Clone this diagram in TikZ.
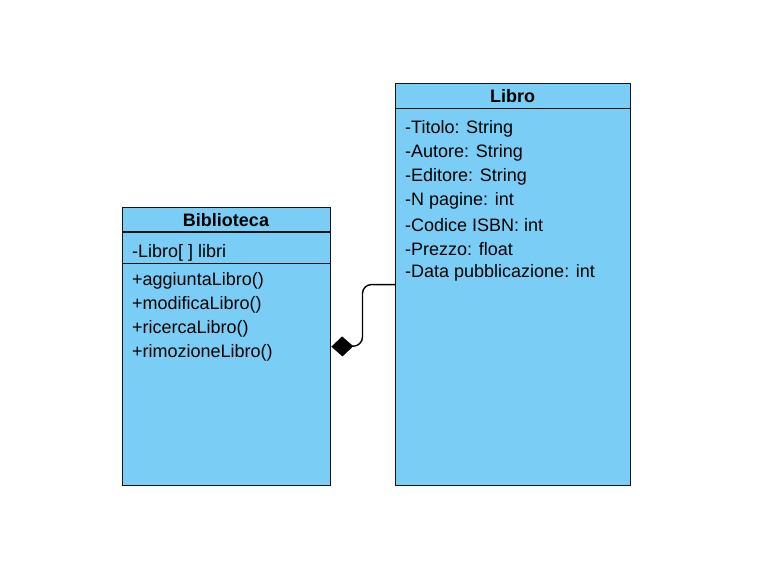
\documentclass[tikz,border=0pt]{standalone}
\usepackage{fontspec}
\setmainfont{Liberation Sans}
\usetikzlibrary{arrows.meta}
\definecolor{umlfill}{RGB}{122,206,245}
\definecolor{umlline}{RGB}{20,20,20}
\tikzset{
  classbox/.style={draw=umlline, fill=umlfill, line width=1.3pt, minimum width=#1, inner sep=0pt, anchor=north west},
  member/.style={anchor=west, inner sep=0pt, font=\fontsize{18}{20}\selectfont, text=black},
  title/.style={anchor=center, inner sep=0pt, font=\fontsize{18}{20}\selectfont\bfseries, text=black},
  sep/.style={draw=umlline, line width=1.3pt},
  assoc/.style={draw=black, line width=1.4pt, rounded corners=9pt}
}
\begin{document}
\begin{tikzpicture}[x=1pt,y=-1pt]
\useasboundingbox (0,0) rectangle (762,561);
% Biblioteca
\node[classbox=208pt, minimum height=278pt] (bib) at (122,207) {};
\draw[sep] (122,232) -- (330,232);
\draw[sep] (122,263.5) -- (330,263.5);
\node[title] (bibt) at (226,220) {Biblioteca};
\node[member] (b1) at (132,253) {-Libro[ ] libri};
\node[member] (b2) at (132,281) {+aggiuntaLibro()};
\node[member] (b3) at (132,305) {+modificaLibro()};
\node[member] (b4) at (132,329) {+ricercaLibro()};
\node[member] (b5) at (132,353) {+rimozioneLibro()};
% Libro
\node[classbox=235pt, minimum height=402pt] (libro) at (395,83) {};
\draw[sep] (395,108.5) -- (630,108.5);
\node[title] (librot) at (512.5,96) {Libro};
\node[member] (l1) at (405,129) {-Titolo: String};
\node[member] (l2) at (405,153) {-Autore: String};
\node[member] (l3) at (405,177) {-Editore: String};
\node[member] (l4) at (405,201) {-N pagine: int};
\node[member] (l5) at (405,225) {-Codice ISBN: int};
\node[member] (l6) at (405,249) {-Prezzo: float};
\node[member] (l7) at (405,273) {-Data pubblicazione: int};
% composition
\draw[assoc, {Diamond[length=22pt,width=20pt]}-] (bib.east) -- (362.5,346) -- (362.5,284.5) -- (libro.west);
\end{tikzpicture}
\end{document}
